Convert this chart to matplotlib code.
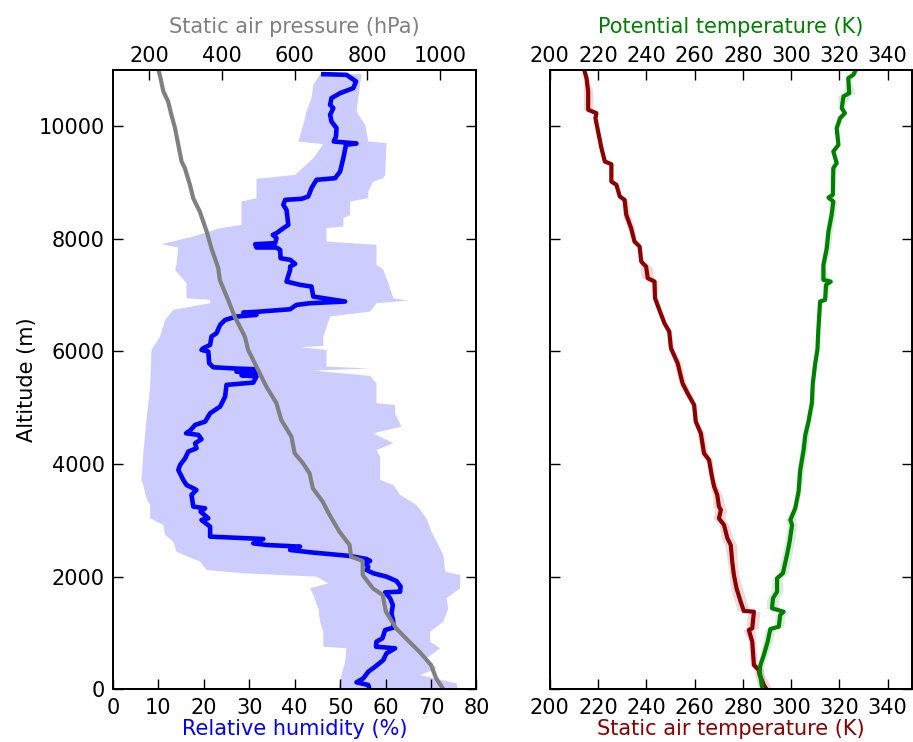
import numpy as np
import matplotlib
matplotlib.use("Agg")
import matplotlib.pyplot as plt

# --- relative humidity profile (median) ---
rh_alt = [10922, 10910, 10792, 10674, 10585, 10496, 10378, 10318, 10200, 10082, 9963, 9815,
          9726, 9691, 9667, 9430, 9194, 9075, 9046, 8898, 8750, 8708, 8690, 8602, 8513, 8246,
          8187, 8098, 8069, 8010, 7921, 7903, 7844, 7844, 7802, 7654, 7625, 7554, 7506, 7447,
          7240, 7181, 7151, 6973, 6926, 6885, 6855, 6825, 6748, 6707, 6689, 6648, 6618, 6559,
          6470, 6322, 6263, 6115, 6056, 6026, 5997, 5789, 5718, 5695, 5683, 5641, 5612, 5576,
          5553, 5446, 5405, 5197, 5020, 4901, 4753, 4694, 4594, 4546, 4517, 4440, 4369, 4280,
          4221, 4102, 3984, 3895, 3717, 3628, 3540, 3451, 3244, 3214, 3155, 3036, 3007, 2888,
          2711, 2669, 2592, 2563, 2533, 2474, 2433, 2367, 2314, 2279, 2237, 2178, 2119, 2060,
          2000, 1923, 1823, 1734, 1722, 1616, 1497, 1349, 1201, 1095, 1053, 905, 846, 757,
          728, 639, 520, 402, 313, 195, 124, 77, 17]
rh_val = [46.3, 51.4, 53.5, 52.9, 50.0, 48.1, 47.8, 48.5, 47.8, 48.1, 49.2, 49.1,
          48.6, 53.6, 51.3, 50.7, 50.0, 48.9, 44.8, 43.7, 43.0, 41.5, 37.9, 37.5, 38.2, 38.6,
          37.5, 36.0, 35.2, 36.0, 35.7, 31.3, 31.6, 36.0, 36.8, 36.9, 39.0, 40.1, 39.0, 39.0,
          38.2, 41.2, 43.7, 44.1, 47.8, 51.1, 43.4, 40.4, 39.0, 32.4, 28.7, 31.6, 27.2, 24.7,
          23.6, 22.8, 21.7, 21.4, 19.9, 19.5, 21.0, 21.2, 22.1, 27.2, 31.3, 27.2, 31.6, 28.3,
          31.6, 30.9, 25.0, 24.7, 23.6, 21.4, 20.3, 18.1, 17.0, 16.1, 18.8, 19.5, 18.1, 18.4,
          16.6, 15.9, 14.8, 14.4, 15.5, 16.2, 18.4, 17.3, 17.7, 20.3, 19.3, 21.0, 19.5, 21.4,
          21.4, 33.1, 30.9, 33.8, 41.2, 39.0, 43.4, 52.2, 55.8, 56.6, 55.5, 56.2, 55.8, 57.3,
          60.2, 62.4, 63.3, 63.2, 59.9, 61.0, 61.6, 61.3, 61.7, 61.7, 59.9, 59.3, 58.0, 57.9,
          62.1, 60.2, 59.5, 57.7, 56.2, 55.1, 53.6, 56.2, 56.4]

# --- relative humidity spread (low / high envelope) ---
rh_lo_alt = [10922, 10733, 10496, 10259, 10022, 9726, 9679, 9430, 9134, 9063, 8720, 8661,
             8246, 8187, 8039, 7903, 7844, 7536, 7447, 7210, 6944, 6914, 6855, 6737, 6559,
             6263, 6026, 5375, 4783, 4191, 3717, 3628, 3392, 3273, 3036, 2918, 2740, 2622,
             2444, 2267, 2119, 2060, 2000, 1882, 1793, 1675, 1438, 1201, 1024, 757, 728,
             491, 254, 0]
rh_lo_val = [45.6, 44.1, 43.7, 42.6, 41.9, 40.8, 46.3, 44.1, 40.1, 31.6, 31.6, 28.3,
             28.3, 23.6, 17.7, 10.7, 14.4, 14.0, 13.7, 16.2, 16.2, 21.4, 21.4, 13.3, 11.5,
             10.4, 8.5, 8.2, 7.4, 6.7, 6.3, 6.7, 7.4, 8.2, 8.2, 11.1, 11.5, 13.3,
             14.0, 19.2, 20.6, 28.7, 44.8, 47.4, 43.4, 44.1, 45.2, 45.6, 46.3, 46.3, 51.4,
             51.1, 50.3, 49.6]
rh_hi_alt = [10922, 10496, 10259, 10022, 9726, 9697, 9134, 9075, 9016, 8838, 8720, 8661,
             8424, 8365, 8217, 8187, 7950, 7891, 7536, 7447, 7210, 6944, 6902, 6855, 6707,
             6618, 6263, 6097, 6074, 6026, 5730, 5695, 5659, 5564, 5434, 5079, 5049, 4901,
             4665, 4546, 4369, 4250, 4132, 3717, 3628, 3451, 3273, 3036, 2800, 2563, 2385,
             2089, 2030, 1793, 1616, 1438, 1201, 1024, 846, 728, 550, 372, 254, 106, 0]
rh_hi_val = [54.7, 54.0, 53.6, 55.5, 56.2, 60.2, 59.9, 59.5, 57.3, 56.2, 56.2, 52.2,
             52.2, 50.7, 50.7, 47.0, 47.0, 58.0, 58.0, 59.5, 60.6, 61.7, 65.0, 58.0, 56.6,
             47.8, 46.3, 46.3, 41.2, 47.0, 47.0, 56.6, 44.1, 56.6, 58.0, 58.0, 62.1, 62.1,
             63.5, 57.3, 61.7, 58.0, 58.8, 58.8, 61.7, 63.2, 66.8, 69.0, 70.1, 71.6, 72.7,
             73.1, 76.4, 76.4, 73.4, 73.8, 72.7, 69.8, 69.8, 72.0, 69.0, 71.2, 67.6, 75.6, 76.0]

# --- static air pressure ---
p_alt = [11005, 10910, 10614, 10437, 10200, 9963, 9667, 9371, 9253, 8957, 8720, 8483,
         8128, 7832, 7477, 7269, 6914, 6618, 6263, 6026, 5612, 5375, 5079, 4783, 4487,
         4191, 4013, 3836, 3569, 3332, 3096, 2800, 2563, 2356, 2279, 2030, 1793, 1675,
         1379, 1083, 846, 668, 432, 195, 0]
p_val = [225, 229, 239, 252, 261, 271, 280, 289, 298, 312, 321, 339,
         358, 371, 390, 394, 417, 435, 463, 472, 504, 522, 550, 563, 591,
         600, 623, 641, 650, 677, 696, 723, 751, 755, 787, 787, 815, 842,
         851, 879, 915, 943, 975, 989, 1009]

# --- static air temperature ---
t_alt = [11005, 10851, 10614, 10289, 10230, 10141, 9904, 9608, 9371, 9324, 9016, 8957,
         8750, 8690, 8424, 8187, 7950, 7862, 7595, 7506, 7299, 7240, 6944, 6737, 6500,
         6352, 6056, 5789, 5434, 5257, 5049, 4753, 4546, 4191, 4073, 3777, 3599, 3451,
         3244, 3184, 3036, 2918, 2681, 2563, 2267, 2030, 1793, 1556, 1391, 1379, 1083,
         1053, 846, 432, 343, 254, 77, 0]
t_val = [214.2, 215.2, 215.9, 215.9, 219.3, 218.9, 220.0, 221.4, 222.8, 225.5, 225.5, 227.6,
         229.0, 231.0, 231.7, 233.7, 235.1, 237.2, 237.9, 239.9, 240.6, 243.4, 243.6, 245.4, 247.5,
         249.5, 250.2, 253.0, 255.0, 257.1, 259.8, 260.5, 262.6, 263.9, 266.0, 267.2, 268.1, 269.4,
         270.1, 270.9, 270.1, 272.2, 273.6, 275.0, 275.6, 276.3, 277.4, 279.1, 280.4, 284.6, 283.9,
         282.5, 283.9, 284.6, 286.6, 287.0, 288.7, 289.8]
t_spread = [0.8, 0.8, 2.0, 2.0, 0.8, 0.8, 0.8, 0.8, 0.8, 0.8, 0.8, 0.8,
            0.8, 1.5, 1.5, 1.5, 0.8, 0.8, 0.8, 2.5, 2.5, 1.5, 1.0, 1.0, 1.0,
            1.0, 1.0, 1.5, 1.5, 1.5, 1.0, 1.0, 1.5, 1.5, 1.5, 1.0, 1.5, 2.0,
            2.5, 2.5, 2.5, 2.0, 2.5, 2.5, 2.0, 2.0, 2.5, 2.5, 2.5, 2.5, 2.5,
            2.5, 1.5, 1.5, 2.0, 2.0, 2.5, 2.5]

# --- potential temperature ---
th_alt = [11005, 10910, 10851, 10585, 10526, 10318, 10230, 10141, 9963, 9667, 9549, 9342,
          9253, 8779, 8732, 8661, 8424, 8128, 7832, 7536, 7269, 7240, 7181, 6914, 6885,
          6381, 6026, 5789, 5434, 5079, 4753, 4517, 4250, 3895, 3510, 3214, 3007, 2918,
          2622, 2385, 2060, 1971, 1734, 1616, 1438, 1379, 1320, 1112, 1071, 846, 609,
          432, 313, 47, 0]
th_val = [326.9, 325.8, 323.7, 324.1, 321.7, 321.0, 322.3, 320.3, 318.9, 319.6, 317.5, 318.9,
          317.5, 317.3, 315.5, 317.5, 316.8, 315.5, 314.8, 313.4, 313.4, 316.4, 314.5, 314.1, 312.0,
          311.3, 310.9, 310.0, 309.0, 308.6, 307.2, 305.9, 305.2, 303.8, 303.1, 301.7, 299.7, 300.4,
          299.4, 298.3, 296.6, 294.2, 294.2, 292.5, 292.1, 296.9, 295.5, 294.9, 291.4, 290.3, 288.7,
          287.3, 287.0, 288.0, 288.3]
th_spread = [0.8, 0.8, 0.8, 2.5, 2.5, 1.0, 1.0, 1.0, 1.0, 0.8, 0.8, 0.8,
             0.8, 1.0, 1.5, 1.5, 1.5, 1.5, 1.5, 1.0, 2.0, 2.0, 1.5, 0.8, 0.8,
             0.8, 0.8, 0.8, 0.8, 1.0, 1.0, 1.5, 1.5, 1.5, 1.0, 1.0, 2.0, 2.0,
             2.0, 2.0, 2.0, 2.0, 2.5, 2.5, 2.5, 2.0, 2.0, 2.0, 2.0, 2.0, 1.5,
             1.5, 1.5, 1.5, 1.5]

alt_ticks = [0, 2000, 4000, 6000, 8000, 10000]
rh_ticks = [0, 10, 20, 30, 40, 50, 60, 70, 80]
p_ticks = [200, 400, 600, 800, 1000]
t_ticks = [200, 220, 240, 260, 280, 300, 320, 340]

FS = 15
plt.rcParams['font.family'] = 'DejaVu Sans'
plt.rcParams['font.size'] = FS

fig = plt.figure(figsize=(9.13, 7.42), dpi=100)
ax1 = fig.add_axes([0.1236, 0.0710, 0.3983, 0.8350])
ax2 = fig.add_axes([0.6022, 0.0710, 0.3964, 0.8350])


def style(ax):
    ax.tick_params(direction='in', length=7, width=1, pad=6, labelsize=FS)
    for s in ax.spines.values():
        s.set_linewidth(1.3)


# left panel: humidity + pressure
band_x = np.r_[rh_lo_val, rh_hi_val[::-1]]
band_y = np.r_[rh_lo_alt, rh_hi_alt[::-1]]
ax1.fill(band_x, band_y, color='blue', alpha=0.2, lw=0)
ax1.plot(rh_val, rh_alt, color='blue', lw=3.3)
ax1.set_xlim(0, 80)
ax1.set_ylim(0, 11000)
ax1.set_xticks(rh_ticks)
ax1.set_yticks(alt_ticks)
ax1.set_xlabel('Relative humidity (%)', color='blue', fontsize=FS, labelpad=1)
ax1.set_ylabel('Altitude (m)', fontsize=FS, labelpad=1)
ax1.yaxis.set_ticks_position('both')
style(ax1)

ax1t = ax1.twiny()
ax1t.plot(p_val, p_alt, color='gray', lw=3)
ax1t.set_xlim(100, 1100)
ax1t.set_xticks(p_ticks)
ax1t.set_xlabel('Static air pressure (hPa)', color='gray', fontsize=FS, labelpad=9)
style(ax1t)
ax1t.tick_params(pad=3)

# right panel: temperatures
t_arr = np.array(t_val)
ax2.fill_betweenx(t_alt, t_arr - np.array(t_spread), t_arr + np.array(t_spread),
                  color='darkred', alpha=0.15, lw=0)
ax2.plot(t_val, t_alt, color='darkred', lw=3)
ax2.set_xlim(200, 350)
ax2.set_ylim(0, 11000)
ax2.set_xticks(t_ticks)
ax2.set_yticks(alt_ticks)
ax2.set_yticklabels([])
ax2.yaxis.set_ticks_position('both')
ax2.set_xlabel('Static air temperature (K)', color='darkred', fontsize=FS, labelpad=1)
style(ax2)

ax2t = ax2.twiny()
th_arr = np.array(th_val)
ax2t.fill_betweenx(th_alt, th_arr - np.array(th_spread), th_arr + np.array(th_spread),
                   color='green', alpha=0.15, lw=0)
ax2t.plot(th_val, th_alt, color='green', lw=3)
ax2t.set_xlim(200, 350)
ax2t.set_xticks(t_ticks)
ax2t.set_xlabel('Potential temperature (K)', color='green', fontsize=FS, labelpad=9)
style(ax2t)
ax2t.tick_params(pad=3)

fig.savefig('out.png', dpi=100)
